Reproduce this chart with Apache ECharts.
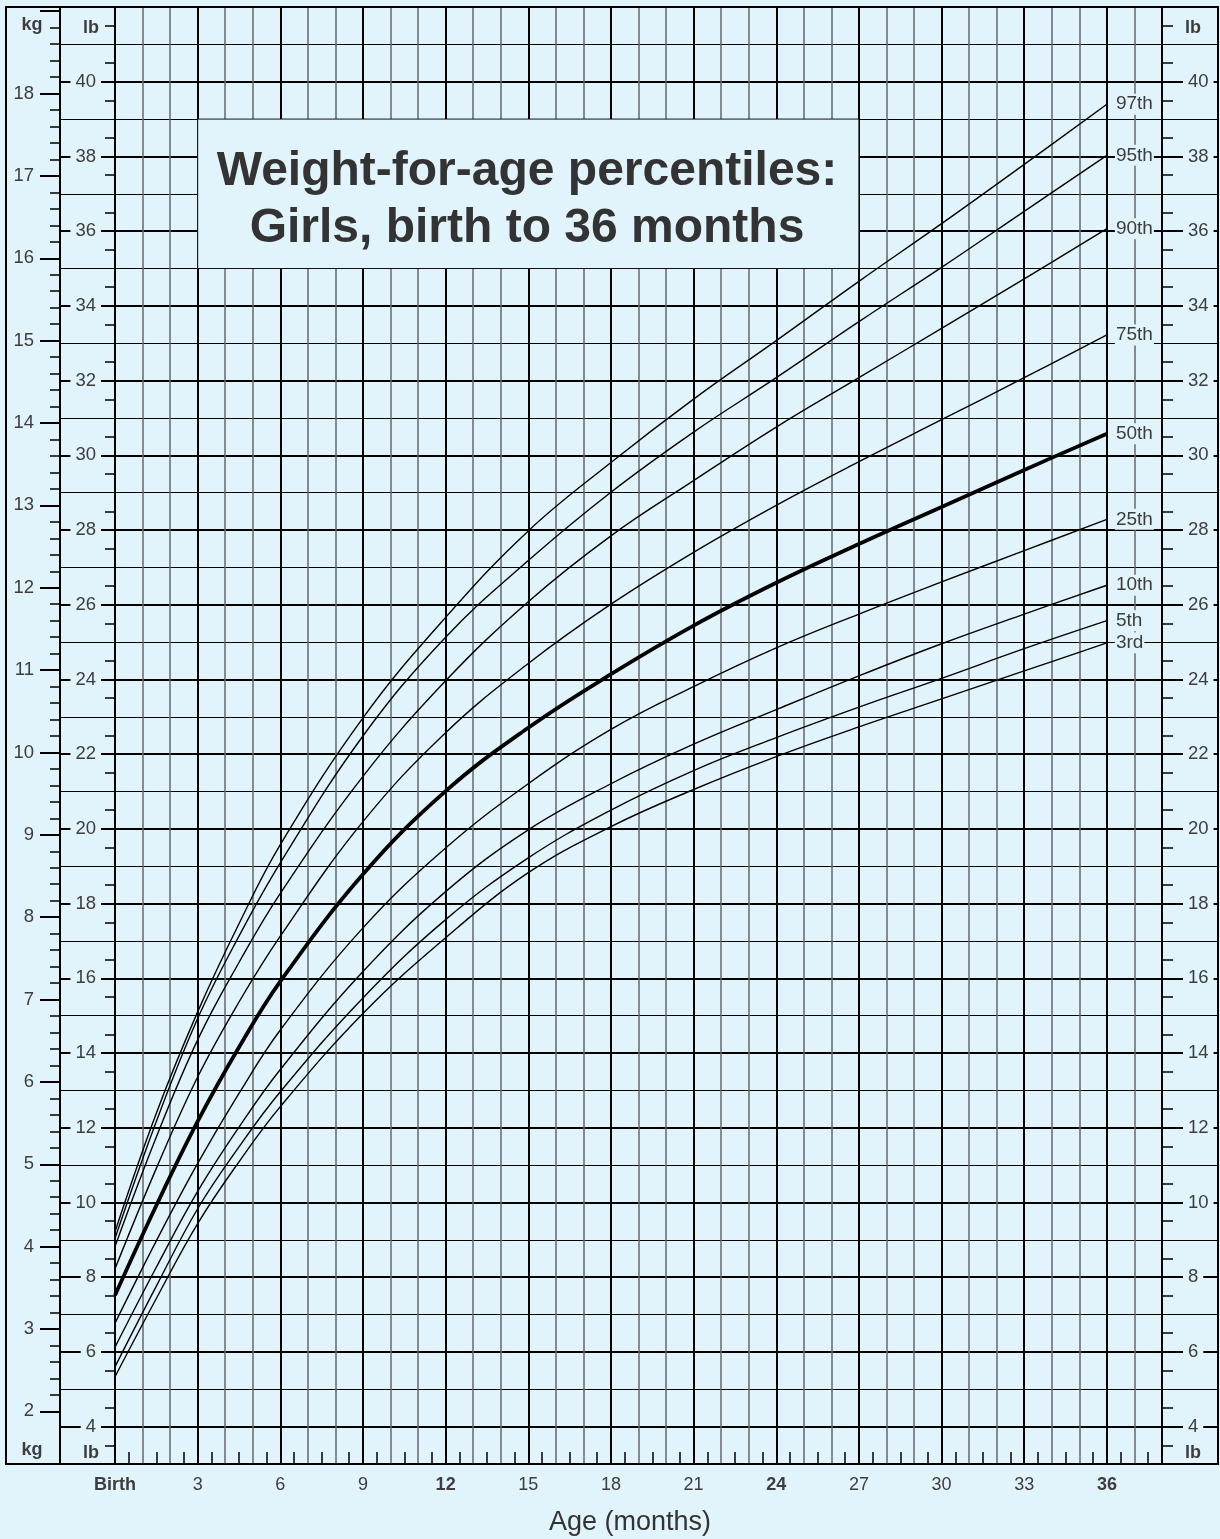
<!DOCTYPE html>
<html>
<head>
<meta charset="utf-8">
<title>Weight-for-age percentiles: Girls, birth to 36 months</title>
<script src="https://cdn.jsdelivr.net/npm/echarts@6/dist/echarts.min.js"></script>
<style>
  html, body { margin: 0; padding: 0; background: #e1f3fb; }
  #chart { width: 1220px; height: 1539px; }
</style>
</head>
<body>
<div id="chart"></div>
<script>
// ages in months, weights in kg
var ages = [0, 1.5, 3, 4.5, 6, 9, 12, 15, 18, 21, 24, 27, 30, 33, 36];
var p97 = [4.18, 5.62, 6.85, 7.92, 8.88, 10.42, 11.64, 12.69, 13.52, 14.29, 15.00, 15.72, 16.42, 17.14, 17.87];
var p95 = [4.10, 5.52, 6.77, 7.77, 8.66, 10.20, 11.40, 12.33, 13.16, 13.89, 14.55, 15.23, 15.89, 16.57, 17.25];
var p90 = [4.00, 5.33, 6.51, 7.45, 8.29, 9.71, 10.87, 11.83, 12.63, 13.30, 13.95, 14.55, 15.15, 15.75, 16.36];
var p75 = [3.73, 4.95, 6.06, 6.97, 7.77, 9.16, 10.24, 11.08, 11.80, 12.43, 13.00, 13.53, 14.04, 14.55, 15.07];
var p50 = [3.41, 4.50, 5.52, 6.42, 7.22, 8.52, 9.53, 10.30, 10.95, 11.54, 12.06, 12.53, 12.98, 13.43, 13.87];
var p25 = [3.07, 4.07, 5.01, 5.86, 6.63, 7.87, 8.84, 9.62, 10.28, 10.80, 11.27, 11.68, 12.07, 12.45, 12.83];
var p10 = [2.78, 3.75, 4.67, 5.45, 6.15, 7.34, 8.31, 9.06, 9.62, 10.10, 10.52, 10.93, 11.32, 11.68, 12.03];
var p5 = [2.54, 3.52, 4.46, 5.21, 5.88, 7.02, 7.97, 8.72, 9.30, 9.78, 10.18, 10.55, 10.90, 11.26, 11.60];
var p3 = [2.42, 3.37, 4.28, 5.03, 5.70, 6.83, 7.75, 8.54, 9.10, 9.55, 9.95, 10.31, 10.65, 10.99, 11.33];

var percentiles = [
  ['97th', p97], ['95th', p95], ['90th', p90], ['75th', p75], ['50th', p50],
  ['25th', p25], ['10th', p10], ['5th', p5], ['3rd', p3]
];

var xTicks = [0, 3, 6, 9, 12, 15, 18, 21, 24, 27, 30, 33, 36];
var xTickLabels = ['Birth', '3', '6', '9', '12', '15', '18', '21', '24', '27', '30', '33', '36'];
var xBold = ['Birth', '12', '24', '36'];

var LB_PER_KG = 2.20462;
var lbMin = 3, lbMax = 42;
var BG = '#e1f3fb';
var INK = '#000';
var TEXT = '#3d3d3d';
var FONT = '"Liberation Sans", Arial, sans-serif';

function steps (from, to, step) {
  var out = [];
  for (var v = from; v <= to + 1e-9; v += step) out.push(Math.round(v * 100) / 100);
  return out;
}

var lbOdd = steps(3, 41, 2);
var lbEven = steps(4, 42, 2);
var lbEvenLabels = steps(4, 40, 2);
var lbHalf = steps(3.5, 41.5, 1);
var kgMajor = steps(2, 19, 1);
var kgLabels = steps(2, 18, 1);
var kgMinor = steps(2.2, 18.8, 0.2);
var monthHalf = steps(0.5, 37.5, 1);

function lbAxis (position, ticks, len, width, split, labels, margin) {
  return {
    type: 'value',
    position: position,
    min: lbMin,
    max: lbMax,
    axisLine: { show: false, onZero: false },
    axisTick: { show: true, customValues: ticks, length: len, lineStyle: { color: INK, width: width } },
    axisLabel: labels ? {
      show: true, customValues: labels, margin: margin, fontSize: 18.5, color: TEXT,
      backgroundColor: BG, padding: [1, 5]
    } : { show: false },
    splitLine: { show: split, lineStyle: { color: INK, width: width } }
  };
}

function kgAxis (ticks, len, width, labels) {
  return {
    type: 'value',
    position: 'left',
    offset: 55,
    min: lbMin / LB_PER_KG,
    max: lbMax / LB_PER_KG,
    axisLine: { show: !!labels, onZero: false, lineStyle: { color: INK, width: 2 } },
    axisTick: { show: true, customValues: ticks, length: len, lineStyle: { color: INK, width: width } },
    axisLabel: labels ? { show: true, customValues: labels, margin: 26, fontSize: 18.5, color: TEXT } : { show: false },
    splitLine: { show: false }
  };
}

var yAxes = [
  lbAxis('left', lbOdd, 55, 1.2, true),
  lbAxis('left', lbHalf, 10, 1.5, false),
  lbAxis('left', lbEven, 55, 2, true, lbEvenLabels, 14),
  lbAxis('right', lbOdd, 56, 1.2, false),
  lbAxis('right', lbHalf, 11, 1.5, false),
  lbAxis('right', lbEven, 56, 2, false, lbEvenLabels, 21),
  kgAxis(kgMinor, 10, 1.5),
  kgAxis(kgMajor, 20, 2, kgLabels)
];
yAxes[2].axisLine = { show: true, onZero: false, lineStyle: { color: INK, width: 2 } };
yAxes[5].axisLine = { show: true, onZero: false, lineStyle: { color: INK, width: 2 } };
var KG_AXIS = 7;

var series = percentiles.map(function (p) {
  return {
    name: p[0],
    type: 'line',
    xAxisIndex: 0,
    yAxisIndex: KG_AXIS,
    data: ages.map(function (a, i) { return [a, p[1][i]]; }),
    smooth: 0.4,
    symbol: 'none',
    lineStyle: { color: INK, width: p[0] === '50th' ? 3.8 : 1.4 },
    endLabel: {
      show: true,
      formatter: p[0],
      distance: 8,
      fontSize: 19,
      color: TEXT,
      backgroundColor: BG,
      padding: [1, 1]
    },
    z: 3
  };
});

// title panel covering the grid
series.push({
  type: 'line',
  xAxisIndex: 0,
  yAxisIndex: 0,
  data: [],
  markArea: {
    silent: true,
    itemStyle: { color: BG, borderColor: '#111', borderWidth: 1 },
    data: [[{ coord: [3, 35] }, { coord: [27, 39] }]]
  },
  z: 2
});

var myChart = echarts.init(document.getElementById('chart'));
myChart.setOption({
  animation: false,
  backgroundColor: BG,
  textStyle: { fontFamily: FONT },
  grid: { left: 115, right: 58, top: 7, bottom: 75 },
  xAxis: [
    {
      type: 'value', min: 0, max: 38, interval: 1,
      axisLine: { show: false, onZero: false },
      axisTick: { show: false },
      axisLabel: { show: false },
      splitLine: { show: true, lineStyle: { color: '#64686a', width: 1.5 } }
    },
    {
      type: 'value', min: 0, max: 38, interval: 3, position: 'bottom',
      axisLine: { show: true, onZero: false, lineStyle: { color: INK, width: 2 } },
      axisTick: { show: false },
      axisLabel: {
        margin: 12, fontSize: 18, color: TEXT,
        formatter: function (v) {
          var i = xTicks.indexOf(v);
          if (i < 0) return '';
          var t = xTickLabels[i];
          return xBold.indexOf(t) >= 0 ? '{b|' + t + '}' : t;
        },
        rich: { b: { fontWeight: 'bold', fontSize: 18, color: TEXT } }
      },
      splitLine: { show: true, lineStyle: { color: INK, width: 2 } }
    },
    {
      type: 'value', min: 0, max: 38, position: 'bottom',
      axisLine: { show: false, onZero: false },
      axisTick: { show: true, inside: true, customValues: monthHalf, length: 12, lineStyle: { color: INK, width: 1.5 } },
      axisLabel: { show: false },
      splitLine: { show: false }
    }
  ],
  yAxis: yAxes,
  series: series,
  graphic: [
    { type: 'rect', z: 100, shape: { x: 6, y: 7, width: 1212, height: 1457 }, style: { fill: 'none', stroke: INK, lineWidth: 2 } },
    { type: 'text', z: 100, x: 32, y: 25, style: { text: 'kg', font: 'bold 18px ' + FONT, fill: TEXT, align: 'center', verticalAlign: 'middle' } },
    { type: 'text', z: 100, x: 91, y: 28, style: { text: 'lb', font: 'bold 18px ' + FONT, fill: TEXT, align: 'center', verticalAlign: 'middle' } },
    { type: 'text', z: 100, x: 1193, y: 28, style: { text: 'lb', font: 'bold 18px ' + FONT, fill: TEXT, align: 'center', verticalAlign: 'middle' } },
    { type: 'text', z: 100, x: 32, y: 1450, style: { text: 'kg', font: 'bold 18px ' + FONT, fill: TEXT, align: 'center', verticalAlign: 'middle' } },
    { type: 'text', z: 100, x: 91, y: 1453, style: { text: 'lb', font: 'bold 18px ' + FONT, fill: TEXT, align: 'center', verticalAlign: 'middle' } },
    { type: 'text', z: 100, x: 1193, y: 1453, style: { text: 'lb', font: 'bold 18px ' + FONT, fill: TEXT, align: 'center', verticalAlign: 'middle' } },
    { type: 'text', z: 100, x: 527, y: 172, style: { text: 'Weight-for-age percentiles:', font: 'bold 48px ' + FONT, fill: '#333', align: 'center', verticalAlign: 'middle' } },
    { type: 'text', z: 100, x: 527, y: 229, style: { text: 'Girls, birth to 36 months', font: 'bold 48px ' + FONT, fill: '#333', align: 'center', verticalAlign: 'middle' } },
    { type: 'text', z: 100, x: 630, y: 1523, style: { text: 'Age (months)', font: '27px ' + FONT, fill: '#333', align: 'center', verticalAlign: 'middle' } }
  ]
});
window.onresize = myChart.resize;
</script>
</body>
</html>
